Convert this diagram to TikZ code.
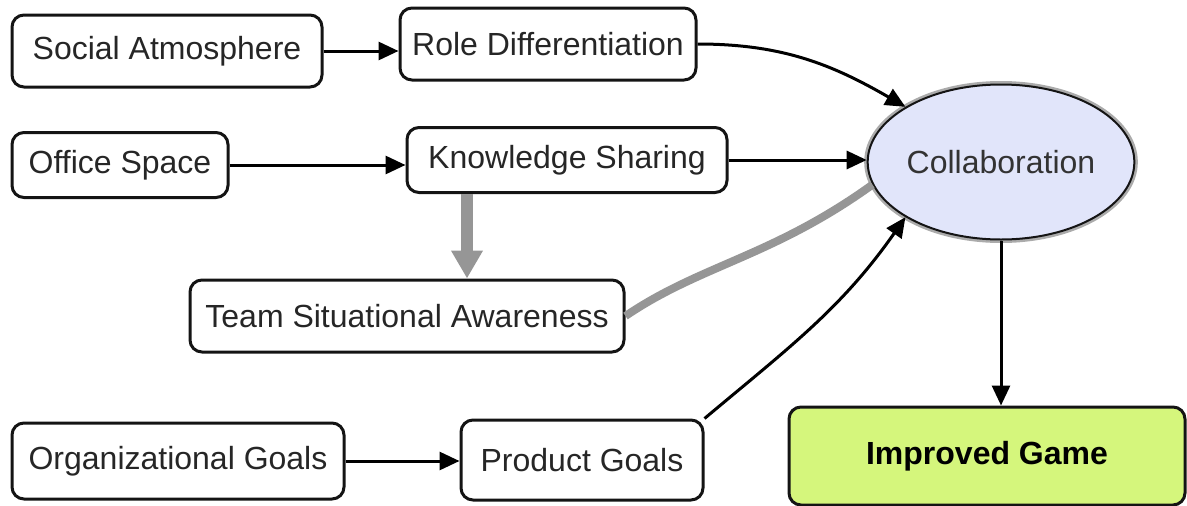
\documentclass[tikz,border=0pt]{standalone}
\usepackage{fontspec}
\setmainfont{Liberation Sans}
\usepackage{xcolor}
\definecolor{outline}{RGB}{20, 20, 20}
\definecolor{lavender}{RGB}{225, 229, 250}
\definecolor{lime}{RGB}{213, 246, 124}
\definecolor{link}{RGB}{150, 150, 150}
\usepackage{tikz}
\usetikzlibrary{shapes.geometric, arrows.meta, positioning, calc}
\tikzstyle{factor} = [rectangle, draw=outline, line width=1.5pt, rounded corners=6pt, minimum height=36pt, inner xsep=6pt, text=black!85, font=\fontsize{16}{19}\selectfont]
\tikzstyle{goal} = [ellipse, draw=outline, line width=1pt, fill=lavender, minimum width=116pt, minimum height=77.5pt, inner sep=0pt, preaction={draw=link!80, line width=3.5pt}, text=black!80, font=\fontsize{16}{19}\selectfont]
\tikzstyle{result} = [factor, fill=lime, minimum width=198pt, minimum height=49pt, text=black, font=\fontsize{16}{19}\selectfont\bfseries]
\tikzstyle{arrow} = [line width=1.5pt, -{Triangle[length=10pt, width=9pt]}]
\tikzstyle{flow} = [draw=link, line width=6pt, -{Triangle[length=14pt, width=15pt]}]
\tikzstyle{tie} = [draw=link, line width=4pt]

\begin{document}
\begin{tikzpicture}[x=0.5pt, y=0.5pt]
    \useasboundingbox (0,0) rectangle (1187,505);

    \node[factor, minimum width=155pt] (social) at (167,454) {Social Atmosphere};
    \node[factor, minimum width=148pt] (role) at (548,461) {Role Differentiation};
    \node[factor, minimum width=108pt, minimum height=32.5pt] (office) at (120,340) {Office Space};
    \node[factor, minimum width=160pt, minimum height=32.5pt] (knowledge) at (567,345) {Knowledge Sharing};
    \node[factor, minimum width=217pt] (awareness) at (407,189) {Team Situational Awareness};
    \node[goal] (collab) at (1001,343) {Collaboration};
    \node[factor, minimum width=166pt, minimum height=38pt] (org) at (178,44) {Organizational Goals};
    \node[factor, minimum width=121pt, minimum height=40pt] (product) at (582,45) {Product Goals};
    \node[result] (game) at (987,49) {Improved Game};

    \draw[arrow] (social.east) -- (social.east -| role.west);
    \draw[arrow] (office.east) -- (office.east -| knowledge.west);
    \draw[arrow] (knowledge.east) -- (knowledge.east -| collab.west);
    \draw[arrow] (role.east) to[out=0, in=150] (collab.150);
    \draw[arrow] (org.east) -- (org.east -| product.west);
    \draw[arrow] (product.north east) to[out=40, in=235] (collab.210);
    \draw[arrow] (collab.south) -- (collab.south |- game.north);
    \draw[flow] ([xshift=-50pt]knowledge.south) -- ([xshift=-50pt]knowledge.south |- awareness.north);
    \draw[tie] (awareness.east) .. controls +(75,51) and +(-100,-72) .. (collab.190);
\end{tikzpicture}
\end{document}
